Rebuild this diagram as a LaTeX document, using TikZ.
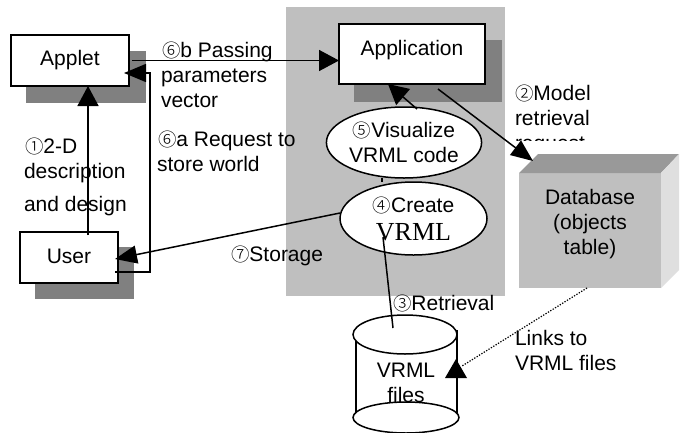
\documentclass[tikz,border=0pt]{standalone}
\usepackage{fontspec}
\setmainfont{Liberation Sans}
\newfontfamily\timesf{Liberation Serif}
\newfontfamily\cjkf{Noto Sans CJK JP Light}[Scale=0.88]
\usetikzlibrary{shapes.geometric,arrows.meta,calc}
\newcommand{\cn}[1]{{\cjkf #1}}
\definecolor{panelgray}{gray}{0.75}
\definecolor{shadowgray}{gray}{0.5}
\definecolor{dbtop}{gray}{0.6}
\definecolor{dbside}{gray}{0.875}
\tikzset{
  x=1pt,y=-1pt,
  every node/.style={inner sep=0pt,outer sep=0pt,font=\fontsize{21}{25}\selectfont},
  boxnode/.style={draw=black,line width=1.5pt,fill=white},
  shadow/.style={fill=shadowgray},
  ell/.style={ellipse,draw=black,line width=1.5pt,fill=white,align=center},
  lab/.style={anchor=base west},
  conn/.style={line width=1.5pt,draw=black},
  arr/.style={conn,-{Triangle[length=20pt,width=21pt]}},
  arrs/.style={conn,-{Triangle[length=22pt,width=18pt]}},
}
\begin{document}
\begin{tikzpicture}
\useasboundingbox (0,0) rectangle (683,432);
% backgrounds
\fill[panelgray] (286,7) rectangle (505,296);
\fill[shadow] (26,51) rectangle (146,103);
\fill[shadow] (354,40) rectangle (502,102);
\fill[shadow] (35,247) rectangle (134,299);
% database
\fill[panelgray] (519,173) rectangle (661,288);
\fill[dbtop] (519,173) -- (538,154) -- (679,154) -- (661,173) -- cycle;
\fill[dbside] (661,173) -- (679,154) -- (679,270) -- (661,288) -- cycle;
\node[align=center] (db) at (590,224) {Database\\(objects\\table)};
% cylinder
\draw[line width=1.5pt] (356,334) -- (356,418);
\draw[line width=1.5pt] (457,330) -- (457,418);
\node[ellipse,draw=black,line width=1.5pt,fill=white,minimum width=104pt,minimum height=39pt] (cyltop) at (405,334.5) {};
\begin{scope}
\clip (340,395) rectangle (470,432);
\node[ellipse,draw=black,line width=1.5pt,fill=white,minimum width=106pt,minimum height=31pt] (cylbot) at (406,417.5) {};
\end{scope}
\node[align=center] (cyl) at (406,383) {VRML\\files};
% boxes
\node[boxnode,minimum width=118pt,minimum height=51pt,text height=14pt,text depth=5pt] (applet) at (70,60.5) {Applet};
\node[boxnode,minimum width=146pt,minimum height=60pt,text height=10pt,text depth=8pt] (application) at (412,54) {Application};
\node[boxnode,minimum width=98pt,minimum height=51pt,text height=15pt,text depth=4pt] (user) at (69,257.5) {User};
% ellipses
\node[ell,minimum width=150pt,minimum height=71pt] (vis) at (404,142.5) {\cn{⑤}Visualize\\VRML code};
\node[ell,minimum width=147pt,minimum height=73pt] (create) at (413.5,218.5) {\cn{④}Create\\[3pt]{\timesf\fontsize{26}{26}\selectfont VRML}};
% connectors
\draw[arr] ([xshift=3pt]applet.east) -- (applet.east -| application.west);
\draw[arrs] ([xshift=-3pt,yshift=-14.5pt]user.east) -| (150,73) -- ([xshift=-5pt,yshift=-12.5pt]applet.east);
\draw[arr] ([xshift=19pt,yshift=-3pt]user.north) -- ([xshift=18pt]applet.south);
\coordinate (a5s) at (417,109);
\coordinate (a5e) at (388,84);
\draw[arr] (a5s) -- (a5e);
\coordinate (a2s) at (438,89);
\coordinate (a2e) at (533,161);
\draw[arrs] (a2s) -- (a2e);
\draw[arrs] (create.west |- 0,213) -- ([xshift=-3pt,yshift=-1.5pt]user.east);
\draw[conn] (382,178) -- (382,182);
\draw[conn] (383,237) -- (393,328);
% dotted link
\coordinate (ld) at (587,288);
\coordinate (lc) at (462,366);
\draw[line width=1.2pt,dash pattern=on 1.3pt off 1.5pt] (ld) -- (lc);
\fill (456,359) -- (467,378) -- (445,378) -- cycle;
% labels
\node[lab] (l6b) at (162,57) {\cn{⑥}b Passing};
\node[lab] (l6b2) at (161,82) {parameters};
\node[lab] (l6b3) at (161,107) {vector};
\node[lab] (l6a) at (158,146) {\cn{⑥}a Request to};
\node[lab] (l6a2) at (157,171) {store world};
\node[lab] (l1) at (25,153) {\cn{①}2-D};
\node[lab] (l12) at (24,178) {description};
\node[lab] (l13) at (24,211) {and design};
\node[lab] (l7) at (231,261) {\cn{⑦}Storage};
\node[lab] (l2) at (515,100) {\cn{②}Model};
\node[lab] (l22) at (515,125) {retrieval};
\begin{scope}
\clip (505,130) rectangle (683,140);
\node[lab] (l23) at (515,150) {request};
\end{scope}
\node[lab] (l3) at (393,310) {\cn{③}Retrieval};
\node[lab] (l4) at (515,345) {Links to};
\node[lab] (l42) at (515,370) {VRML files};
\end{tikzpicture}
\end{document}
